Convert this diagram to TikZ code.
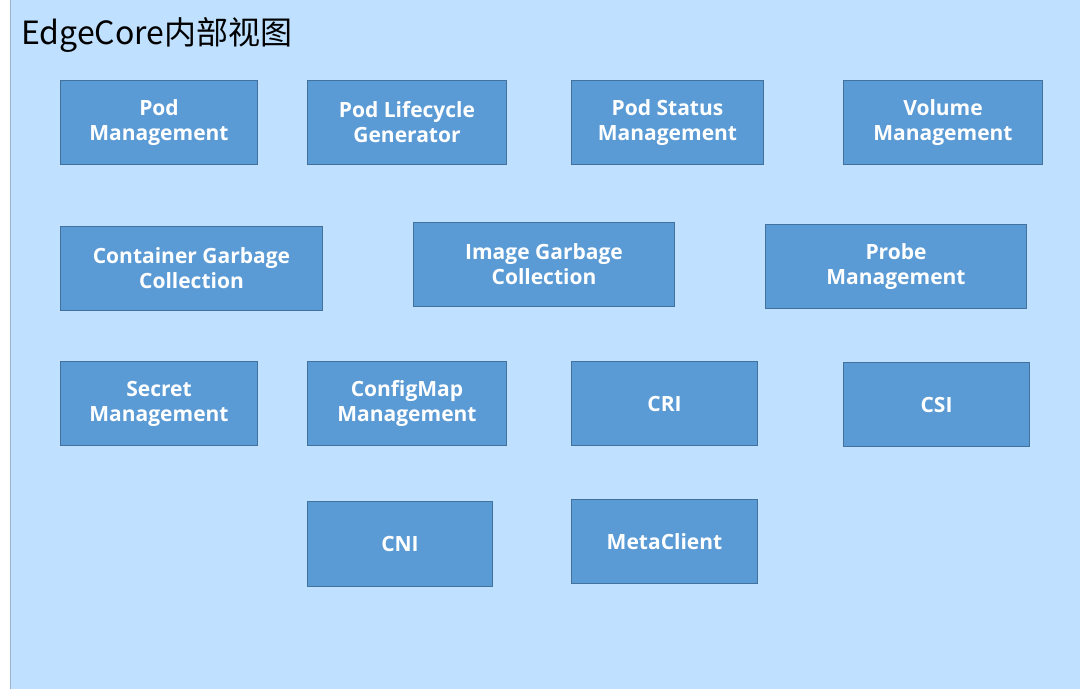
\documentclass[tikz,border=0pt]{standalone}
\usepackage{fontspec}
\setmainfont{Open Sans}
\newfontfamily\cjkfont{Noto Sans CJK SC}
\definecolor{bgblue}{HTML}{BFE0FF}
\definecolor{boxblue}{HTML}{5B9BD5}
\definecolor{boxline}{HTML}{41719C}
\tikzset{
	module/.style={draw=boxline,fill=boxblue,line width=1pt,anchor=north west,
		align=center,text=white,inner sep=0pt,
		font=\bfseries\fontsize{21}{25}\selectfont},
}

\begin{document}
\begin{tikzpicture}[x=1pt,y=-1pt]
	\useasboundingbox (0,0) rectangle (1080,689);
	\fill[bgblue] (10,0) rectangle (1080,689);
	\draw[bgblue!80!black,line width=0.8pt] (10,0) -- (10,689);
	\node[anchor=west,inner sep=0pt,font=\cjkfont\fontsize{32}{36}\selectfont] (title) at (21,35) {EdgeCore内部视图};
	% first row
	\node[module,minimum width=197pt,minimum height=84pt] (podmgmt) at (60,80) {Pod\\Management};
	\node[module,minimum width=199pt,minimum height=84pt] (podlife) at (307,80) {Pod Lifecycle\\Generator};
	\node[module,minimum width=192pt,minimum height=84pt] (podstatus) at (571,80) {Pod Status\\Management};
	\node[module,minimum width=199pt,minimum height=84pt] (volume) at (843,80) {Volume\\Management};
	% second row
	\node[module,minimum width=262pt,minimum height=84pt] (containergc) at (60,226) {Container Garbage\\Collection};
	\node[module,minimum width=261pt,minimum height=84pt] (imagegc) at (413,222) {Image Garbage\\Collection};
	\node[module,minimum width=261pt,minimum height=84pt] (probe) at (765,224) {Probe\\Management};
	% third row
	\node[module,minimum width=197pt,minimum height=84pt] (secret) at (60,361) {Secret\\Management};
	\node[module,minimum width=199pt,minimum height=84pt] (configmap) at (307,361) {ConfigMap\\Management};
	\node[module,minimum width=186pt,minimum height=84pt] (cri) at (571,361) {CRI};
	\node[module,minimum width=186pt,minimum height=84pt] (csi) at (843,362) {CSI};
	% last row
	\node[module,minimum width=185pt,minimum height=85pt] (cni) at (307,501) {CNI};
	\node[module,minimum width=186pt,minimum height=84pt] (metaclient) at (571,499) {MetaClient};
\end{tikzpicture}
\end{document}
